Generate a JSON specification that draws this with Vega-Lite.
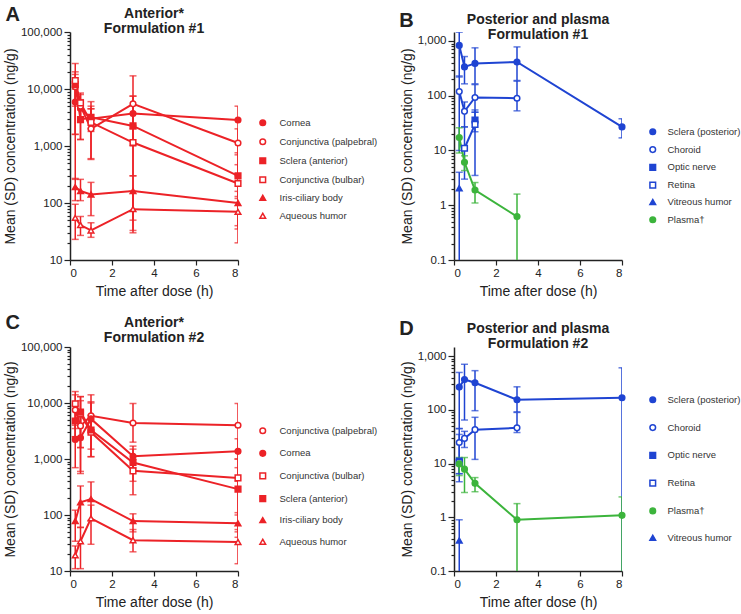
{
"$schema": "https://vega.github.io/schema/vega-lite/v6.json",
"padding": {"left": 3, "top": 5, "right": 0, "bottom": 0},
"data": {"values": [
{"p":"A","t":"Cornea","x":0.25,"m":5900,"lo":1600,"hi":10000},
{"p":"A","t":"Cornea","x":0.5,"m":4600,"lo":3000,"hi":6500},
{"p":"A","t":"Cornea","x":1,"m":3000,"lo":1800,"hi":4500},
{"p":"A","t":"Cornea","x":3,"m":3700,"lo":2000,"hi":7500},
{"p":"A","t":"Cornea","x":8,"m":2860,"lo":700,"hi":5000},
{"p":"A","t":"Conjunctiva (palpebral)","x":0.25,"m":11000,"lo":260,"hi":20000},
{"p":"A","t":"Conjunctiva (palpebral)","x":0.5,"m":5000,"lo":1300,"hi":8500},
{"p":"A","t":"Conjunctiva (palpebral)","x":1,"m":2000,"lo":600,"hi":6000},
{"p":"A","t":"Conjunctiva (palpebral)","x":3,"m":5500,"lo":1000,"hi":17000},
{"p":"A","t":"Conjunctiva (palpebral)","x":8,"m":1130,"lo":300,"hi":2000},
{"p":"A","t":"Sclera (anterior)","x":0.25,"m":12000,"lo":5000,"hi":18000},
{"p":"A","t":"Sclera (anterior)","x":0.5,"m":2900,"lo":1300,"hi":4600},
{"p":"A","t":"Sclera (anterior)","x":1,"m":3200,"lo":2000,"hi":4500},
{"p":"A","t":"Sclera (anterior)","x":3,"m":2250,"lo":300,"hi":7500},
{"p":"A","t":"Sclera (anterior)","x":8,"m":300,"lo":130,"hi":470},
{"p":"A","t":"Conjunctiva (bulbar)","x":0.25,"m":14000,"lo":1600,"hi":28000},
{"p":"A","t":"Conjunctiva (bulbar)","x":0.5,"m":5700,"lo":4300,"hi":8000},
{"p":"A","t":"Conjunctiva (bulbar)","x":1,"m":2600,"lo":580,"hi":5000},
{"p":"A","t":"Conjunctiva (bulbar)","x":3,"m":1150,"lo":50,"hi":2300},
{"p":"A","t":"Conjunctiva (bulbar)","x":8,"m":220,"lo":40,"hi":760},
{"p":"A","t":"Iris-ciliary body","x":0.25,"m":190,"lo":110,"hi":270},
{"p":"A","t":"Iris-ciliary body","x":0.5,"m":162,"lo":110,"hi":260},
{"p":"A","t":"Iris-ciliary body","x":1,"m":141,"lo":60,"hi":230},
{"p":"A","t":"Iris-ciliary body","x":3,"m":162,"lo":30,"hi":300},
{"p":"A","t":"Iris-ciliary body","x":8,"m":100,"lo":35,"hi":160},
{"p":"A","t":"Aqueous humor","x":0.25,"m":55,"lo":23,"hi":95},
{"p":"A","t":"Aqueous humor","x":0.5,"m":41,"lo":27,"hi":58},
{"p":"A","t":"Aqueous humor","x":1,"m":33,"lo":25,"hi":45},
{"p":"A","t":"Aqueous humor","x":3,"m":78,"lo":33,"hi":160},
{"p":"A","t":"Aqueous humor","x":8,"m":70,"lo":20,"hi":120},
{"p":"B","t":"Sclera (posterior)","x":0.25,"m":830,"lo":220,"hi":1450},
{"p":"B","t":"Sclera (posterior)","x":0.5,"m":336,"lo":165,"hi":520},
{"p":"B","t":"Sclera (posterior)","x":1,"m":390,"lo":165,"hi":750},
{"p":"B","t":"Sclera (posterior)","x":3,"m":414,"lo":190,"hi":780},
{"p":"B","t":"Sclera (posterior)","x":8,"m":27,"lo":17,"hi":38},
{"p":"B","t":"Choroid","x":0.25,"m":119,"lo":10,"hi":230},
{"p":"B","t":"Choroid","x":0.5,"m":52,"lo":27,"hi":77},
{"p":"B","t":"Choroid","x":1,"m":93,"lo":50,"hi":160},
{"p":"B","t":"Choroid","x":3,"m":90,"lo":53,"hi":185},
{"p":"B","t":"Optic nerve","x":1,"m":36,"lo":22,"hi":50},
{"p":"B","t":"Retina","x":0.5,"m":11,"lo":3,"hi":27},
{"p":"B","t":"Retina","x":1,"m":30,"lo":3.5,"hi":55},
{"p":"B","t":"Vitreous humor","x":0.25,"m":2.05,"lo":0.01,"hi":4},
{"p":"B","t":"Plasma†","x":0.25,"m":17.3,"lo":9,"hi":26},
{"p":"B","t":"Plasma†","x":0.5,"m":6.1,"lo":4.3,"hi":8},
{"p":"B","t":"Plasma†","x":1,"m":1.9,"lo":1.1,"hi":2.6},
{"p":"B","t":"Plasma†","x":3,"m":0.62,"lo":0.01,"hi":1.6},
{"p":"C","t":"Conjunctiva (palpebral)","x":0.25,"m":7500,"lo":2500,"hi":14000},
{"p":"C","t":"Conjunctiva (palpebral)","x":0.5,"m":3900,"lo":1600,"hi":13000},
{"p":"C","t":"Conjunctiva (palpebral)","x":1,"m":5900,"lo":1100,"hi":14000},
{"p":"C","t":"Conjunctiva (palpebral)","x":3,"m":4400,"lo":2000,"hi":9800},
{"p":"C","t":"Conjunctiva (palpebral)","x":8,"m":4000,"lo":1000,"hi":9800},
{"p":"C","t":"Cornea","x":0.25,"m":2240,"lo":700,"hi":4000},
{"p":"C","t":"Cornea","x":0.5,"m":2400,"lo":600,"hi":5500},
{"p":"C","t":"Cornea","x":1,"m":5200,"lo":3000,"hi":10500},
{"p":"C","t":"Cornea","x":3,"m":1120,"lo":700,"hi":1700},
{"p":"C","t":"Cornea","x":8,"m":1370,"lo":400,"hi":2300},
{"p":"C","t":"Conjunctiva (bulbar)","x":0.25,"m":9700,"lo":3500,"hi":16000},
{"p":"C","t":"Conjunctiva (bulbar)","x":0.5,"m":6500,"lo":1600,"hi":11000},
{"p":"C","t":"Conjunctiva (bulbar)","x":1,"m":3000,"lo":1500,"hi":6000},
{"p":"C","t":"Conjunctiva (bulbar)","x":3,"m":615,"lo":230,"hi":1000},
{"p":"C","t":"Conjunctiva (bulbar)","x":8,"m":460,"lo":100,"hi":1000},
{"p":"C","t":"Sclera (anterior)","x":0.25,"m":4770,"lo":2500,"hi":9000},
{"p":"C","t":"Sclera (anterior)","x":0.5,"m":6900,"lo":550,"hi":13000},
{"p":"C","t":"Sclera (anterior)","x":1,"m":3300,"lo":1100,"hi":10000},
{"p":"C","t":"Sclera (anterior)","x":3,"m":865,"lo":400,"hi":1500},
{"p":"C","t":"Sclera (anterior)","x":8,"m":290,"lo":50,"hi":700},
{"p":"C","t":"Iris-ciliary body","x":0.25,"m":78,"lo":34,"hi":122},
{"p":"C","t":"Iris-ciliary body","x":0.5,"m":168,"lo":60,"hi":330},
{"p":"C","t":"Iris-ciliary body","x":1,"m":192,"lo":80,"hi":390},
{"p":"C","t":"Iris-ciliary body","x":3,"m":78,"lo":50,"hi":105},
{"p":"C","t":"Iris-ciliary body","x":8,"m":71,"lo":40,"hi":110},
{"p":"C","t":"Aqueous humor","x":0.25,"m":19,"lo":11,"hi":28},
{"p":"C","t":"Aqueous humor","x":0.5,"m":34,"lo":11,"hi":60},
{"p":"C","t":"Aqueous humor","x":1,"m":87,"lo":30,"hi":150},
{"p":"C","t":"Aqueous humor","x":3,"m":35.5,"lo":22,"hi":55},
{"p":"C","t":"Aqueous humor","x":8,"m":33,"lo":13.5,"hi":55},
{"p":"D","t":"Sclera (posterior)","x":0.25,"m":267,"lo":45,"hi":500},
{"p":"D","t":"Sclera (posterior)","x":0.5,"m":370,"lo":65,"hi":710},
{"p":"D","t":"Sclera (posterior)","x":1,"m":321,"lo":97,"hi":540},
{"p":"D","t":"Sclera (posterior)","x":3,"m":155,"lo":92,"hi":270},
{"p":"D","t":"Sclera (posterior)","x":8,"m":169,"lo":0.01,"hi":610},
{"p":"D","t":"Choroid","x":0.25,"m":24.8,"lo":6.5,"hi":35},
{"p":"D","t":"Choroid","x":0.5,"m":29.5,"lo":20,"hi":40},
{"p":"D","t":"Choroid","x":1,"m":43,"lo":12,"hi":73},
{"p":"D","t":"Choroid","x":3,"m":46.5,"lo":38,"hi":90},
{"p":"D","t":"Optic nerve","x":0.25,"m":11.2,"lo":4.6,"hi":12},
{"p":"D","t":"Retina","x":0.25,"m":10.5,"lo":6.5,"hi":45},
{"p":"D","t":"Plasma†","x":0.25,"m":9.9,"lo":6,"hi":13},
{"p":"D","t":"Plasma†","x":0.5,"m":7.9,"lo":2.9,"hi":13},
{"p":"D","t":"Plasma†","x":1,"m":4.3,"lo":3,"hi":5.5},
{"p":"D","t":"Plasma†","x":3,"m":0.9,"lo":0.01,"hi":1.8},
{"p":"D","t":"Plasma†","x":8,"m":1.09,"lo":0.01,"hi":2.4},
{"p":"D","t":"Vitreous humor","x":0.25,"m":0.37,"lo":0.01,"hi":0.9}
]},
"spacing": 14,
"resolve": {"scale": {"color": "independent", "shape": "independent", "fill": "independent", "stroke": "independent"}, "legend": {"color": "independent", "shape": "independent", "fill": "independent", "stroke": "independent"}},
"vconcat": [
{"hconcat": [
 {"title": {"text": "A", "anchor": "start", "fontSize": 20, "offset": -20, "dy": -2, "dx": 2},
  "resolve": {"scale": {"color": "independent", "shape": "independent", "fill": "independent", "stroke": "independent"}, "legend": {"color": "independent", "shape": "independent", "fill": "independent", "stroke": "independent"}},
  "vconcat": [{
  "width": 168, "height": 228,
  "title": {"text": ["Anterior*", "Formulation #1"], "frame": "group", "anchor": "middle", "offset": -10},
  "transform": [{"filter": "datum.p === 'A'"}],
  "encoding": {"x": {"field": "x", "type": "quantitative", "scale": {"domain": [0, 8], "nice": false}, "axis": {"values": [0, 2, 4, 6, 8], "title": "Time after dose (h)"}}},
  "layer": [
   {"mark": {"type": "rule", "clip": true, "strokeWidth": 1.5},
    "encoding": {"y": {"field": "lo", "type": "quantitative", "scale": {"type": "log", "domain": [10, 100000], "nice": false},
      "axis": {"title": "Mean (SD) concentration (ng/g)", "values": [10,20,30,40,50,60,70,80,90,100,200,300,400,500,600,700,800,900,1000,2000,3000,4000,5000,6000,7000,8000,9000,10000,20000,30000,40000,50000,60000,70000,80000,90000,100000],
       "labelExpr": "indexof([10,100,1000,10000,100000], datum.value) >= 0 ? format(datum.value, ',') : ''",
       "tickSize": {"condition": {"test": "indexof([10,100,1000,10000,100000], datum.value) >= 0", "value": 6}, "value": 3}, "labelOverlap": false}},
     "y2": {"field": "hi"},
     "color": {"field": "t", "type": "nominal", "scale": {"domain": ["Aqueous humor","Iris-ciliary body","Conjunctiva (bulbar)","Sclera (anterior)","Conjunctiva (palpebral)","Cornea"], "range": ["#ec2227","#ec2227","#ec2227","#ec2227","#ec2227","#ec2227"]}, "legend": null}}},
   {"mark": {"type": "tick", "clip": true, "orient": "horizontal", "size": 7, "thickness": 1.5},
    "encoding": {"y": {"field": "lo", "type": "quantitative"}, "color": {"field": "t", "type": "nominal", "legend": null}}},
   {"mark": {"type": "tick", "clip": true, "orient": "horizontal", "size": 7, "thickness": 1.5},
    "encoding": {"y": {"field": "hi", "type": "quantitative"}, "color": {"field": "t", "type": "nominal", "legend": null}}},
   {"mark": {"type": "line", "strokeWidth": 2},
    "encoding": {"y": {"field": "m", "type": "quantitative"}, "color": {"field": "t", "type": "nominal", "legend": null}}},
   {"mark": {"type": "point", "filled": true, "size": 32, "strokeWidth": 1.5, "opacity": 1},
    "encoding": {"y": {"field": "m", "type": "quantitative"},
     "shape": {"field": "t", "type": "nominal", "scale": {"domain": ["Cornea","Conjunctiva (palpebral)","Sclera (anterior)","Conjunctiva (bulbar)","Iris-ciliary body","Aqueous humor"], "range": ["circle","circle","square","square","triangle-up","triangle-up"]},
      "legend": {"title": " ", "titleFontSize": 2, "titlePadding": 84, "orient": "right", "offset": 16, "rowPadding": 6}},
     "fill": {"field": "t", "type": "nominal", "scale": {"domain": ["Cornea","Conjunctiva (palpebral)","Sclera (anterior)","Conjunctiva (bulbar)","Iris-ciliary body","Aqueous humor"], "range": ["#ec2227","white","#ec2227","white","#ec2227","white"]},
      "legend": {"title": " ", "titleFontSize": 2, "titlePadding": 84, "orient": "right", "offset": 16, "rowPadding": 6}},
     "stroke": {"field": "t", "type": "nominal", "scale": {"domain": ["Cornea","Conjunctiva (palpebral)","Sclera (anterior)","Conjunctiva (bulbar)","Iris-ciliary body","Aqueous humor"], "range": ["#ec2227","#ec2227","#ec2227","#ec2227","#ec2227","#ec2227"]},
      "legend": {"title": " ", "titleFontSize": 2, "titlePadding": 84, "orient": "right", "offset": 16, "rowPadding": 6}}}}
  ]}]},
 {"title": {"text": "B", "anchor": "start", "fontSize": 20, "offset": -20, "dy": -2, "dx": -1},
  "resolve": {"scale": {"color": "independent", "shape": "independent", "fill": "independent", "stroke": "independent"}, "legend": {"color": "independent", "shape": "independent", "fill": "independent", "stroke": "independent"}},
  "vconcat": [{
  "width": 168, "height": 228,
  "title": {"text": ["Posterior and plasma", "Formulation #1"], "frame": "group", "anchor": "middle", "offset": -10},
  "transform": [{"filter": "datum.p === 'B'"}],
  "encoding": {"x": {"field": "x", "type": "quantitative", "scale": {"domain": [0, 8], "nice": false}, "axis": {"values": [0, 2, 4, 6, 8], "title": "Time after dose (h)"}}},
  "layer": [
   {"mark": {"type": "rule", "clip": true, "strokeWidth": 1.5},
    "encoding": {"y": {"field": "lo", "type": "quantitative", "scale": {"type": "log", "domain": [0.1, 1460], "nice": false},
      "axis": {"title": "Mean (SD) concentration (ng/g)", "values": [0.1,0.2,0.3,0.4,0.5,0.6,0.7,0.8,0.9,1,2,3,4,5,6,7,8,9,10,20,30,40,50,60,70,80,90,100,200,300,400,500,600,700,800,900,1000],
       "labelExpr": "indexof([0.1,1,10,100,1000], datum.value) >= 0 ? format(datum.value, ',') : ''",
       "tickSize": {"condition": {"test": "indexof([0.1,1,10,100,1000], datum.value) >= 0", "value": 6}, "value": 3}, "labelOverlap": false}},
     "y2": {"field": "hi"},
     "color": {"field": "t", "type": "nominal", "scale": {"domain": ["Plasma†","Vitreous humor","Retina","Optic nerve","Choroid","Sclera (posterior)"], "range": ["#3cb43c","#1f44d2","#1f44d2","#1f44d2","#1f44d2","#1f44d2"]}, "legend": null}}},
   {"mark": {"type": "tick", "clip": true, "orient": "horizontal", "size": 7, "thickness": 1.5},
    "encoding": {"y": {"field": "lo", "type": "quantitative"}, "color": {"field": "t", "type": "nominal", "legend": null}}},
   {"mark": {"type": "tick", "clip": true, "orient": "horizontal", "size": 7, "thickness": 1.5},
    "encoding": {"y": {"field": "hi", "type": "quantitative"}, "color": {"field": "t", "type": "nominal", "legend": null}}},
   {"mark": {"type": "line", "strokeWidth": 2},
    "encoding": {"y": {"field": "m", "type": "quantitative"}, "color": {"field": "t", "type": "nominal", "legend": null}}},
   {"mark": {"type": "point", "filled": true, "size": 32, "strokeWidth": 1.5, "opacity": 1},
    "encoding": {"y": {"field": "m", "type": "quantitative"},
     "shape": {"field": "t", "type": "nominal", "scale": {"domain": ["Sclera (posterior)","Choroid","Optic nerve","Retina","Vitreous humor","Plasma†"], "range": ["circle","circle","square","square","triangle-up","circle"]},
      "legend": {"title": " ", "titleFontSize": 2, "titlePadding": 93, "orient": "right", "offset": 22, "rowPadding": 4.8, "labelOffset": 10}},
     "fill": {"field": "t", "type": "nominal", "scale": {"domain": ["Sclera (posterior)","Choroid","Optic nerve","Retina","Vitreous humor","Plasma†"], "range": ["#1f44d2","white","#1f44d2","white","#1f44d2","#3cb43c"]},
      "legend": {"title": " ", "titleFontSize": 2, "titlePadding": 93, "orient": "right", "offset": 22, "rowPadding": 4.8, "labelOffset": 10}},
     "stroke": {"field": "t", "type": "nominal", "scale": {"domain": ["Sclera (posterior)","Choroid","Optic nerve","Retina","Vitreous humor","Plasma†"], "range": ["#1f44d2","#1f44d2","#1f44d2","#1f44d2","#1f44d2","#3cb43c"]},
      "legend": {"title": " ", "titleFontSize": 2, "titlePadding": 93, "orient": "right", "offset": 22, "rowPadding": 4.8, "labelOffset": 10}}}}
  ]}]}
 ],
 "spacing": 21,
 "resolve": {"scale": {"color": "independent", "shape": "independent", "fill": "independent", "stroke": "independent"}, "legend": {"color": "independent", "shape": "independent", "fill": "independent", "stroke": "independent"}}
},
{"hconcat": [
 {"title": {"text": "C", "anchor": "start", "fontSize": 20, "offset": -20, "dy": -3, "dx": 2},
  "resolve": {"scale": {"color": "independent", "shape": "independent", "fill": "independent", "stroke": "independent"}, "legend": {"color": "independent", "shape": "independent", "fill": "independent", "stroke": "independent"}},
  "vconcat": [{
  "width": 168, "height": 224,
  "title": {"text": ["Anterior*", "Formulation #2"], "frame": "group", "anchor": "middle", "offset": -4},
  "transform": [{"filter": "datum.p === 'C'"}],
  "encoding": {"x": {"field": "x", "type": "quantitative", "scale": {"domain": [0, 8], "nice": false}, "axis": {"values": [0, 2, 4, 6, 8], "title": "Time after dose (h)"}}},
  "layer": [
   {"mark": {"type": "rule", "clip": true, "strokeWidth": 1.5},
    "encoding": {"y": {"field": "lo", "type": "quantitative", "scale": {"type": "log", "domain": [10, 100000], "nice": false},
      "axis": {"title": "Mean (SD) concentration (ng/g)", "values": [10,20,30,40,50,60,70,80,90,100,200,300,400,500,600,700,800,900,1000,2000,3000,4000,5000,6000,7000,8000,9000,10000,20000,30000,40000,50000,60000,70000,80000,90000,100000],
       "labelExpr": "indexof([10,100,1000,10000,100000], datum.value) >= 0 ? format(datum.value, ',') : ''",
       "tickSize": {"condition": {"test": "indexof([10,100,1000,10000,100000], datum.value) >= 0", "value": 6}, "value": 3}, "labelOverlap": false}},
     "y2": {"field": "hi"},
     "color": {"field": "t", "type": "nominal", "scale": {"domain": ["Aqueous humor","Iris-ciliary body","Sclera (anterior)","Conjunctiva (bulbar)","Cornea","Conjunctiva (palpebral)"], "range": ["#ec2227","#ec2227","#ec2227","#ec2227","#ec2227","#ec2227"]}, "legend": null}}},
   {"mark": {"type": "tick", "clip": true, "orient": "horizontal", "size": 7, "thickness": 1.5},
    "encoding": {"y": {"field": "lo", "type": "quantitative"}, "color": {"field": "t", "type": "nominal", "legend": null}}},
   {"mark": {"type": "tick", "clip": true, "orient": "horizontal", "size": 7, "thickness": 1.5},
    "encoding": {"y": {"field": "hi", "type": "quantitative"}, "color": {"field": "t", "type": "nominal", "legend": null}}},
   {"mark": {"type": "line", "strokeWidth": 2},
    "encoding": {"y": {"field": "m", "type": "quantitative"}, "color": {"field": "t", "type": "nominal", "legend": null}}},
   {"mark": {"type": "point", "filled": true, "size": 32, "strokeWidth": 1.5, "opacity": 1},
    "encoding": {"y": {"field": "m", "type": "quantitative"},
     "shape": {"field": "t", "type": "nominal", "scale": {"domain": ["Conjunctiva (palpebral)","Cornea","Conjunctiva (bulbar)","Sclera (anterior)","Iris-ciliary body","Aqueous humor"], "range": ["circle","circle","square","square","triangle-up","triangle-up"]},
      "legend": {"title": " ", "titleFontSize": 2, "titlePadding": 77, "orient": "right", "offset": 16, "rowPadding": 9.6}},
     "fill": {"field": "t", "type": "nominal", "scale": {"domain": ["Conjunctiva (palpebral)","Cornea","Conjunctiva (bulbar)","Sclera (anterior)","Iris-ciliary body","Aqueous humor"], "range": ["white","#ec2227","white","#ec2227","#ec2227","white"]},
      "legend": {"title": " ", "titleFontSize": 2, "titlePadding": 77, "orient": "right", "offset": 16, "rowPadding": 9.6}},
     "stroke": {"field": "t", "type": "nominal", "scale": {"domain": ["Conjunctiva (palpebral)","Cornea","Conjunctiva (bulbar)","Sclera (anterior)","Iris-ciliary body","Aqueous humor"], "range": ["#ec2227","#ec2227","#ec2227","#ec2227","#ec2227","#ec2227"]},
      "legend": {"title": " ", "titleFontSize": 2, "titlePadding": 77, "orient": "right", "offset": 16, "rowPadding": 9.6}}}}
  ]}]},
 {"title": {"text": "D", "anchor": "start", "fontSize": 20, "offset": -20, "dy": -3, "dx": -1},
  "resolve": {"scale": {"color": "independent", "shape": "independent", "fill": "independent", "stroke": "independent"}, "legend": {"color": "independent", "shape": "independent", "fill": "independent", "stroke": "independent"}},
  "vconcat": [{
  "width": 168, "height": 224,
  "title": {"text": ["Posterior and plasma", "Formulation #2"], "frame": "group", "anchor": "middle", "offset": -4},
  "transform": [{"filter": "datum.p === 'D'"}],
  "encoding": {"x": {"field": "x", "type": "quantitative", "scale": {"domain": [0, 8], "nice": false}, "axis": {"values": [0, 2, 4, 6, 8], "title": "Time after dose (h)"}}},
  "layer": [
   {"mark": {"type": "rule", "clip": true, "strokeWidth": 1.5},
    "encoding": {"y": {"field": "lo", "type": "quantitative", "scale": {"type": "log", "domain": [0.1, 1490], "nice": false},
      "axis": {"title": "Mean (SD) concentration (ng/g)", "values": [0.1,0.2,0.3,0.4,0.5,0.6,0.7,0.8,0.9,1,2,3,4,5,6,7,8,9,10,20,30,40,50,60,70,80,90,100,200,300,400,500,600,700,800,900,1000],
       "labelExpr": "indexof([0.1,1,10,100,1000], datum.value) >= 0 ? format(datum.value, ',') : ''",
       "tickSize": {"condition": {"test": "indexof([0.1,1,10,100,1000], datum.value) >= 0", "value": 6}, "value": 3}, "labelOverlap": false}},
     "y2": {"field": "hi"},
     "color": {"field": "t", "type": "nominal", "scale": {"domain": ["Vitreous humor","Plasma†","Retina","Optic nerve","Choroid","Sclera (posterior)"], "range": ["#1f44d2","#3cb43c","#1f44d2","#1f44d2","#1f44d2","#1f44d2"]}, "legend": null}}},
   {"mark": {"type": "tick", "clip": true, "orient": "horizontal", "size": 7, "thickness": 1.5},
    "encoding": {"y": {"field": "lo", "type": "quantitative"}, "color": {"field": "t", "type": "nominal", "legend": null}}},
   {"mark": {"type": "tick", "clip": true, "orient": "horizontal", "size": 7, "thickness": 1.5},
    "encoding": {"y": {"field": "hi", "type": "quantitative"}, "color": {"field": "t", "type": "nominal", "legend": null}}},
   {"mark": {"type": "line", "strokeWidth": 2},
    "encoding": {"y": {"field": "m", "type": "quantitative"}, "color": {"field": "t", "type": "nominal", "legend": null}}},
   {"mark": {"type": "point", "filled": true, "size": 32, "strokeWidth": 1.5, "opacity": 1},
    "encoding": {"y": {"field": "m", "type": "quantitative"},
     "shape": {"field": "t", "type": "nominal", "scale": {"domain": ["Sclera (posterior)","Choroid","Optic nerve","Retina","Plasma†","Vitreous humor"], "range": ["circle","circle","square","square","circle","triangle-up"]},
      "legend": {"title": " ", "titleFontSize": 2, "titlePadding": 46, "orient": "right", "offset": 22, "rowPadding": 14.8, "labelOffset": 10}},
     "fill": {"field": "t", "type": "nominal", "scale": {"domain": ["Sclera (posterior)","Choroid","Optic nerve","Retina","Plasma†","Vitreous humor"], "range": ["#1f44d2","white","#1f44d2","white","#3cb43c","#1f44d2"]},
      "legend": {"title": " ", "titleFontSize": 2, "titlePadding": 46, "orient": "right", "offset": 22, "rowPadding": 14.8, "labelOffset": 10}},
     "stroke": {"field": "t", "type": "nominal", "scale": {"domain": ["Sclera (posterior)","Choroid","Optic nerve","Retina","Plasma†","Vitreous humor"], "range": ["#1f44d2","#1f44d2","#1f44d2","#1f44d2","#3cb43c","#1f44d2"]},
      "legend": {"title": " ", "titleFontSize": 2, "titlePadding": 46, "orient": "right", "offset": 22, "rowPadding": 14.8, "labelOffset": 10}}}}
  ]}]}
 ],
 "spacing": 21,
 "resolve": {"scale": {"color": "independent", "shape": "independent", "fill": "independent", "stroke": "independent"}, "legend": {"color": "independent", "shape": "independent", "fill": "independent", "stroke": "independent"}}
}
],
"config": {
 "font": "Liberation Sans",
 "view": {"stroke": null},
 "axis": {"grid": false, "labelFontSize": 11.5, "titleFontSize": 14, "titleFontWeight": "normal", "domainColor": "#222", "tickColor": "#222", "labelColor": "#222", "titleColor": "#222", "domainWidth": 1.5, "tickWidth": 1.2, "labelPadding": 2, "titlePadding": 6},
 "axisY": {"titlePadding": 3},
 "axisX": {"tickSize": 5},
 "legend": {"labelFontSize": 9.5, "labelColor": "#333", "symbolSize": 32, "symbolStrokeWidth": 1.5, "labelOffset": 12},
 "title": {"fontSize": 14, "fontWeight": "bold", "color": "#222", "lineHeight": 15}
}
}
